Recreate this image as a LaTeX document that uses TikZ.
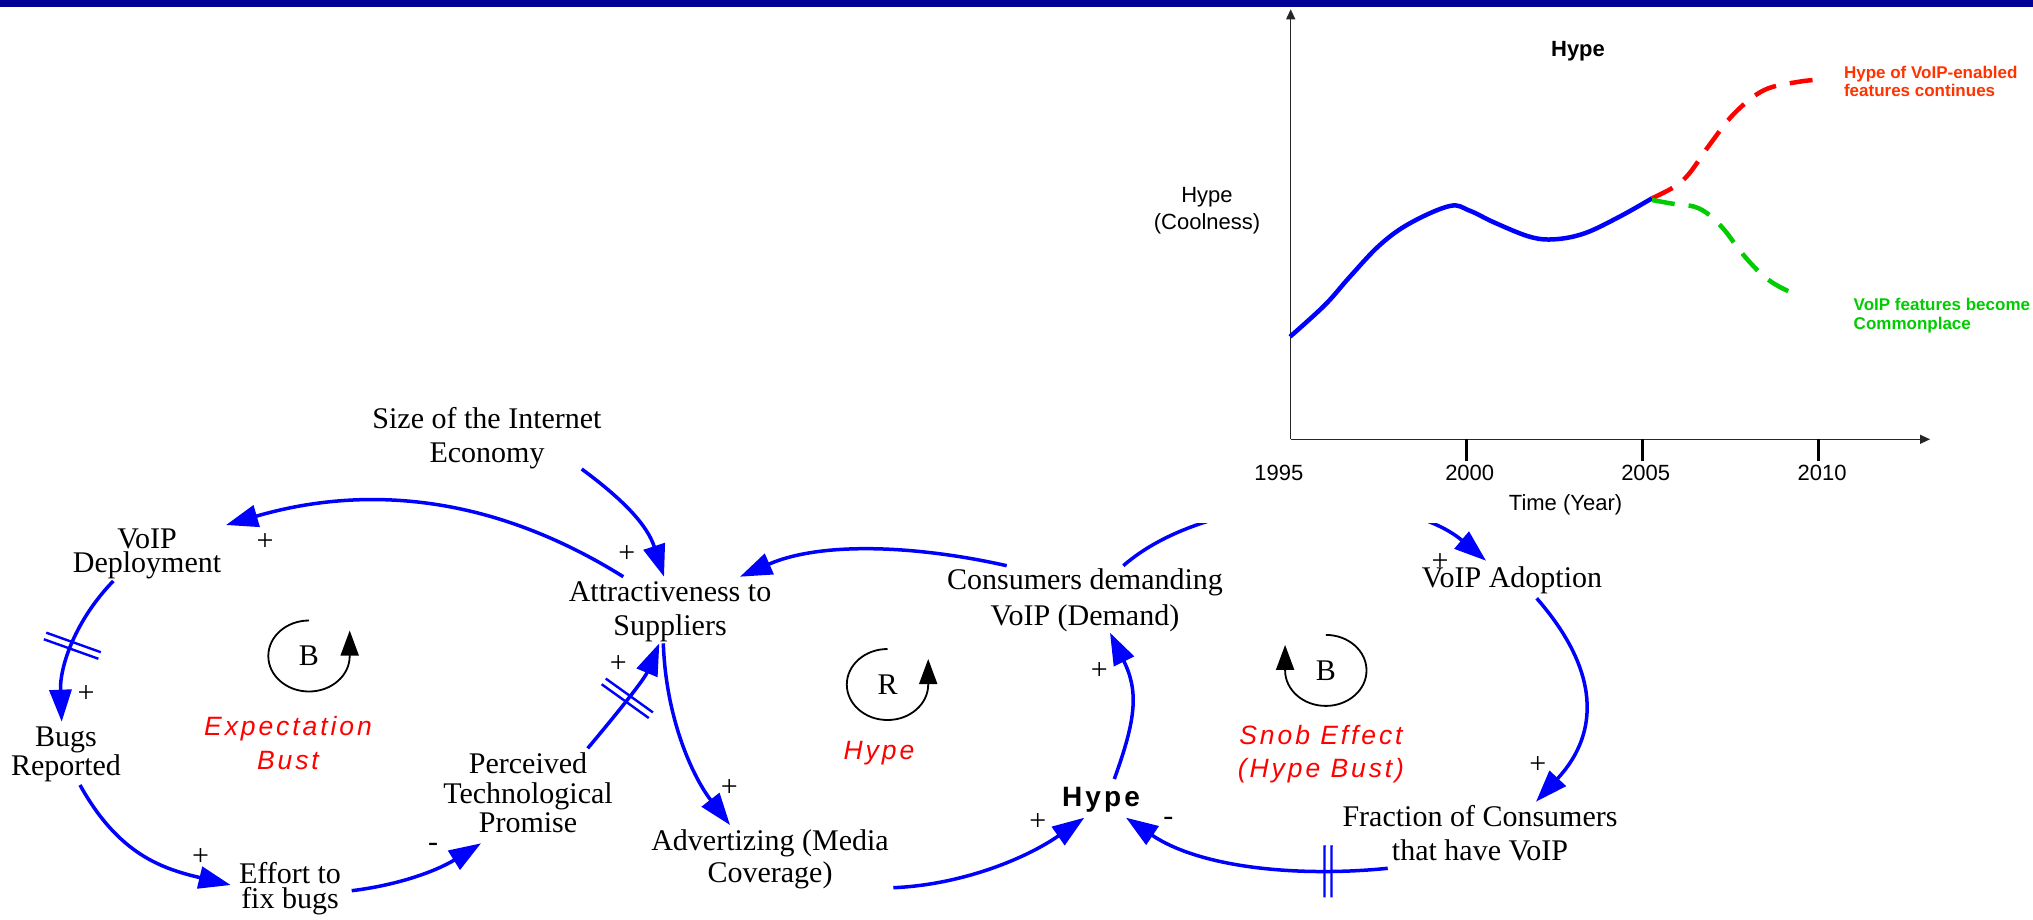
\documentclass[tikz,border=0pt]{standalone}
\usepackage{fontspec}
\setmainfont{Liberation Serif}
\newfontfamily\loopfont[LetterSpace=11]{Liberation Sans}
\newfontfamily\chartfont{Liberation Sans}
\usetikzlibrary{arrows.meta,decorations.markings}
\definecolor{navy}{RGB}{0,0,153}
\definecolor{cblue}{RGB}{0,0,255}
\definecolor{cred}{RGB}{255,0,0}
\definecolor{corange}{RGB}{255,51,0}
\definecolor{cgreen}{RGB}{0,204,0}
\newcommand\vf[1]{\fontsize{30}{#1}\selectfont}
\begin{document}
\begin{tikzpicture}[x=1pt,y=1pt,
  var/.style={align=center,inner sep=0pt,font=\vf{#1}},
  sgn/.style={inner sep=0pt,font=\fontsize{30}{30}\selectfont},
  lbl/.style={align=center,inner sep=0pt,text=cred,font=\loopfont\itshape\fontsize{26.5}{#1}\selectfont},
  link/.style={draw=cblue,line width=3.5pt,-{Triangle[length=32pt,width=22pt]}},
  delay/.style n args={2}{postaction={decorate,decoration={markings,mark=at position #1 with {\draw[-,cblue,line width=2.4pt] (-3.5,-#2)--(-3.5,#2) (3.5,-#2)--(3.5,#2);}}}},
  loopl/.style={draw=black,line width=1.8pt,-{Triangle[length=25pt,width=18pt]}},
  ctext/.style={inner sep=0pt,font=\chartfont\fontsize{22}{22}\selectfont},
  axisl/.style={draw=black!85,line width=1.3pt,-{Triangle[length=10pt,width=9pt]}},
  tick/.style={draw=black,line width=2.7pt},
]
\useasboundingbox (0,0) rectangle (2033,-919);
\fill[white] (0,0) rectangle (2033,-919);
\fill[navy] (0,0) rectangle (2033,-7);

% variables
\node[var=34] (size) at (487,-437.7) {Size of the Internet\\Economy};
\node[var=23.7] (voipdep) at (147,-554.2) {VoIP\\Deployment};
\node[var=29.3] (bugs) at (66,-754.6) {Bugs\\Reported};
\node[var=25] (effort) at (290,-888.8) {Effort to\\fix bugs};
\node[var=29.7] (perceived) at (528,-792.8) {Perceived\\Technological\\Promise};
\node[var=34] (attract) at (670,-611.7) {Attractiveness to\\Suppliers};
\node[var=32.3] (advert) at (770,-859) {Advertizing (Media\\Coverage)};
\node[var=35.7] (consumers) at (1085,-600.2) {Consumers demanding\\VoIP (Demand)};
\node[var=30] (adoption) at (1512,-580.7) {VoIP Adoption};
\node[var=33.3] (fraction) at (1480,-833.1) {Fraction of Consumers\\that have VoIP};
\node[inner sep=0pt,font=\loopfont\bfseries\fontsize{28}{28}\selectfont] (hype) at (1101,-799.6) {Hype};

% loop labels
\node[lbl=33.3] (lexp) at (288,-742.9) {Expectation\\Bust};
\node[lbl=30] (lhype) at (879,-753.3) {Hype};
\node[lbl=33.4] (lsnob) at (1321,-754.2) {Snob Effect\\(Hype Bust)};

% loop symbols
\node[sgn] (loopb1) at (309,-656) {B};
\node[sgn] (loopr) at (887.5,-684.5) {R};
\node[sgn] (loopb2) at (1325.8,-670.4) {B};
\draw[loopl] ([yshift=35.5pt]loopb1.center) arc[start angle=90,end angle=360,x radius=40.7,y radius=35.5] -- ++(0,25.5);
\draw[loopl] ([yshift=35.5pt]loopr.center) arc[start angle=90,end angle=360,x radius=40.7,y radius=35.5] -- ++(0,25.5);
\draw[loopl] ([yshift=35.5pt]loopb2.center) arc[start angle=90,end angle=-180,x radius=40.7,y radius=35.5] -- ++(0,25.5);

% links
\draw[link] ([shift={(94.7,-31.3)}]size.center) .. controls (625,-501) and (647.4,-525.6) .. ([shift={(-6,35)}]attract.center);
\draw[link] ([shift={(-46.7,35)}]attract.center) .. controls (487.6,-491.9) and (360.4,-485.8) .. ([shift={(79,29.2)}]voipdep.center);
\draw[link,delay={0.5}{29}] ([shift={(59.7,44.5)}]perceived.center) .. controls (613.4,-717.7) and (643.9,-680.2) .. ([shift={(-10.7,-31.6)}]attract.center);
\draw[link] ([shift={(-6.7,-31.6)}]attract.center) .. controls (666,-720) and (693.3,-777.5) .. ([shift={(-40,34)}]advert.center);
\draw[link] ([shift={(123.3,-28.7)}]advert.center) .. controls (963,-884.7) and (1027,-857.9) .. ([shift={(-16.7,-18.1)}]hype.center);
\draw[link] ([shift={(13.3,20.6)}]hype.center) .. controls (1136.5,-717.9) and (1138.5,-691.1) .. ([shift={(25,-32.5)}]consumers.center);
\draw[link] ([shift={(-78.3,34.5)}]consumers.center) .. controls (918.9,-545.9) and (822.5,-540.8) .. ([shift={(70,35)}]attract.center);
\draw[link] ([shift={(38.3,34.5)}]consumers.center) .. controls (1210,-490) and (1400,-488) .. ([shift={(-26,20)}]adoption.center);
\draw[link] ([shift={(24.7,-17.6)}]adoption.center) .. controls (1599.2,-669.8) and (1600.8,-732.2) .. ([shift={(56,31.4)}]fraction.center);
\draw[link,delay={0.22}{26}] ([shift={(-92.3,-35.2)}]fraction.center) .. controls (1298.2,-877.3) and (1200.6,-867.9) .. ([shift={(25,-18.1)}]hype.center);
\draw[link,delay={0.5}{29}] ([shift={(-33.7,-26.8)}]voipdep.center) .. controls (75.1,-620.5) and (59.6,-666.8) .. ([shift={(-4.3,32.9)}]bugs.center);
\draw[link] ([shift={(14,-30.4)}]bugs.center) .. controls (118.8,-855) and (162.7,-868.7) .. ([shift={(-59.3,3.8)}]effort.center);
\draw[link] ([shift={(61.7,-1.9)}]effort.center) .. controls (401.3,-884.6) and (438.6,-869.8) .. ([shift={(-47,-50.5)}]perceived.center);

% polarity signs
\node[sgn] (p1) at (265,-541.7) {+};
\node[sgn] (p2) at (626.7,-554.3) {+};
\node[sgn] (p3) at (86,-694) {+};
\node[sgn] (p4) at (200.7,-856.7) {+};
\node[sgn] (m1) at (433,-847.7) {-};
\node[sgn] (p5) at (618.3,-664.3) {+};
\node[sgn] (p6) at (729.3,-788.3) {+};
\node[sgn] (p7) at (1037.7,-822.3) {+};
\node[sgn] (p8) at (1099.3,-671) {+};
\node[sgn] (p9) at (1440,-561.7) {+};
\node[sgn] (p10) at (1537.7,-765) {+};
\node[sgn] (m2) at (1168.3,-821) {-};

% chart
\fill[white] (1140,-8) rectangle (2033,-523);
\coordinate (o) at (1290.7,-439.3);
\draw[axisl] (o) -- (1290.7,-9.3);
\draw[axisl] (o) -- (1930,-439.3);
\foreach \tx in {1466.7,1642.7,1818.3} \draw[tick] (\tx,-439.3) -- (\tx,-460.7);
\node[ctext] (t1995) at (1278.8,-473.1) {1995};
\node[ctext] (t2000) at (1469.7,-473.1) {2000};
\node[ctext] (t2005) at (1645.7,-473.1) {2005};
\node[ctext] (t2010) at (1822,-473.1) {2010};
\node[ctext] (timelab) at (1565.5,-504.3) {Time (Year)};
\node[ctext,font=\chartfont\bfseries\fontsize{22}{22}\selectfont] (title) at (1578,-51.1) {Hype};
\node[ctext,align=center,font=\chartfont\fontsize{22}{26.7}\selectfont] (ylab) at (1207,-211) {Hype\\(Coolness)};
\node[anchor=west,align=left,inner sep=0pt,text=corange,font=\chartfont\bfseries\fontsize{17}{18.4}\selectfont] (redlab) at (1843.8,-81.3) {Hype of VoIP-enabled\\features continues};
\node[anchor=west,align=left,inner sep=0pt,text=cgreen,font=\chartfont\bfseries\fontsize{17}{19}\selectfont] (greenlab) at (1853.5,-315.1) {VoIP features become\\Commonplace};
\draw[cblue,line width=4.5pt] plot[smooth,tension=0.6] coordinates {(1290,-336.7) (1324.9,-305) (1349.9,-276.7) (1379.8,-245) (1409.8,-223.3) (1449.7,-206) (1469.7,-210.7) (1494.7,-222.7) (1529.6,-236.7) (1554.6,-239.3) (1584.6,-233.3) (1619.5,-216.7) (1652,-198.3)};
\draw[cred,line width=4.5pt,dash pattern=on 23pt off 14pt] plot[smooth,tension=0.6] coordinates {(1652,-198.3) (1674.4,-186.7) (1689.4,-173.3) (1709.4,-145) (1734.4,-113.3) (1764.3,-90) (1799.3,-81.7) (1824.3,-79.3)};
\draw[cgreen,line width=4.5pt,dash pattern=on 23pt off 14pt] plot[smooth,tension=0.6] coordinates {(1652,-200) (1674.4,-204) (1694.4,-206.7) (1709.4,-215) (1724.4,-230) (1736.9,-246.7) (1749.3,-261.7) (1764.3,-276.7) (1779.3,-286.7) (1796.8,-295)};
\end{tikzpicture}
\end{document}
